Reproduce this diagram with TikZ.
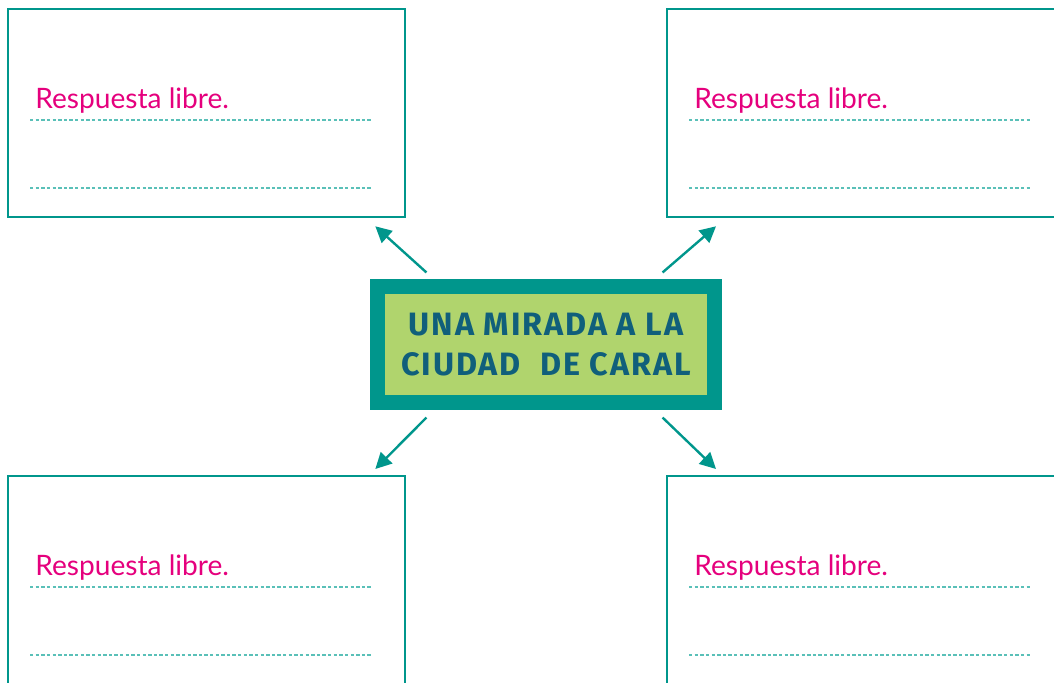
\documentclass[tikz,border=0pt]{standalone}
\usepackage{fontspec}
\setmainfont{Lato}
\newfontfamily\titlefont{Fira Sans}[LetterSpace=6]
\usepackage{tikz}
\usetikzlibrary{arrows.meta,positioning}
\definecolor{crteal}{RGB}{0,150,140}
\definecolor{crlightteal}{RGB}{90,192,184}
\definecolor{crgreen}{RGB}{176,212,109}
\definecolor{crnavy}{RGB}{16,95,123}
\definecolor{crmagenta}{RGB}{229,0,125}
\tikzstyle{arrow} = [line width=1.7pt,-{Triangle[length=0.4cm,width=0.4cm]},color=crteal]
\tikzstyle{answerbox} = [rectangle, anchor=north west, minimum width=9.925cm, minimum height=5.2cm, draw=crteal, line width=1.6pt]
\tikzstyle{writeline} = [crlightteal, line width=0.9pt, dash pattern=on 2.4pt off 1.6pt]
\tikzstyle{titlebox} = [rectangle, minimum width=8.4cm, minimum height=2.875cm, fill=crgreen, draw=crteal, line width=0.375cm, text=crnavy, align=center, font=\titlefont\bfseries\fontsize{23}{29}\selectfont]

\begin{document}
\begin{tikzpicture}[x=0.025cm, y=-0.025cm]
\useasboundingbox (0,0) rectangle (1054,683);
\clip (0,0) rectangle (1054,683);
% Nodes
\node (title) [titlebox] at (546,344.5) {UNA MIRADA A LA\\CIUDAD~~DE CARAL};
\foreach \nm/\px/\py in {tl/7/8, tr/666/8, bl/7/475, br/666/475} {
  \node (\nm) [answerbox] at (\px,\py) {};
  \node [anchor=base west, text=crmagenta, font=\fontsize{20}{24}\selectfont, inner sep=0pt]
    at ([xshift=0.7cm, yshift=-2.5cm]\nm.north west) {Respuesta libre.};
  \draw[writeline] ([xshift=0.575cm, yshift=-2.8cm]\nm.north west) -- ++(343,0);
  \draw[writeline] ([xshift=0.575cm, yshift=-4.5cm]\nm.north west) -- ++(343,0);
}

% Arrows
\draw[arrow] ([xshift=1.4cm, yshift=0.175cm]title.north west) -- ([xshift=-0.775cm, yshift=-0.2cm]tl.south east);
\draw[arrow] ([xshift=-1.475cm, yshift=0.175cm]title.north east) -- ([xshift=1.25cm, yshift=-0.2cm]tr.south west);
\draw[arrow] ([xshift=1.4cm, yshift=-0.2cm]title.south west) -- ([xshift=-0.775cm, yshift=0.15cm]bl.north east);
\draw[arrow] ([xshift=-1.475cm, yshift=-0.2cm]title.south east) -- ([xshift=1.25cm, yshift=0.15cm]br.north west);
\end{tikzpicture}
\end{document}
